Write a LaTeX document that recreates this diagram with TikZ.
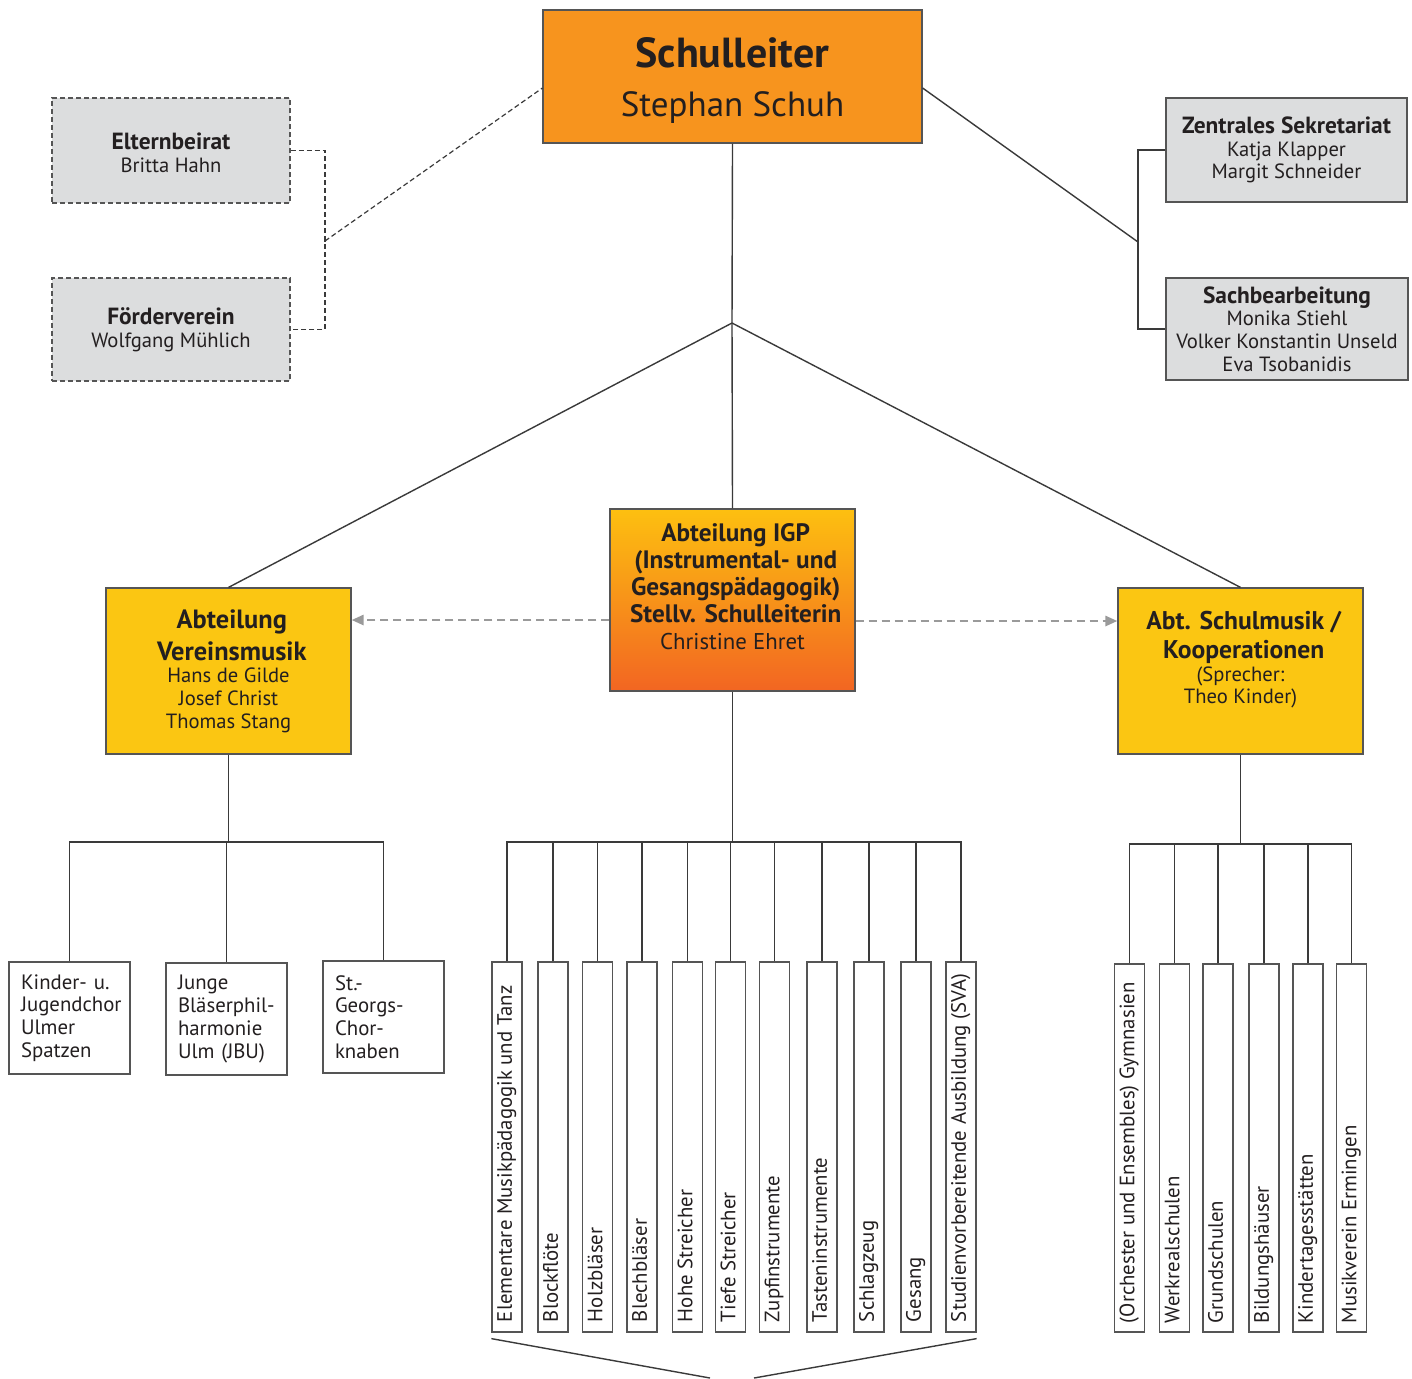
\documentclass[tikz,border=0pt]{standalone}
\usepackage{fontspec}
\setmainfont{PT Sans}
\usepackage{graphicx}
\usetikzlibrary{arrows.meta}

\definecolor{leadfill}{HTML}{F7941E}
\definecolor{deptfill}{HTML}{FBC612}
\definecolor{igptop}{HTML}{FDC010}
\definecolor{igpbottom}{HTML}{F26522}
\definecolor{stafffill}{HTML}{DCDDDE}
\definecolor{framec}{HTML}{555555}
\definecolor{wirec}{HTML}{3A3A3A}
\definecolor{peerc}{HTML}{9A9A9A}
\definecolor{ink}{HTML}{231F20}

\hyphenpenalty=10000
\exhyphenpenalty=10000

% title fonts
\newcommand\boxtitle{\fontsize{11.7}{11.5}\selectfont\bfseries}
\newcommand\depttitle[1]{\fontsize{#1}{14}\selectfont\bfseries}
% text set upright in a narrow column, read from bottom to top
\newcommand\uptext[1]{\rotatebox{90}{\makebox[175pt][l]{\strut #1}}}

\begin{document}
\begin{tikzpicture}[x=0.5pt,y=-0.5pt,
  every node/.style={text=ink, inner sep=0pt},
  wire/.style={draw=wirec, line width=0.7pt},
  dotwire/.style={draw=wirec, line width=0.6pt, dash pattern=on 2.5pt off 1.5pt},
  peer/.style={draw=peerc, line width=1.3pt, dash pattern=on 4pt off 2.5pt,
    -{Triangle[length=6pt,width=5pt,fill=peerc]}},
  framed/.style={draw=framec, line width=0.6pt, align=center},
  staffbox/.style={framed, fill=stafffill, minimum width=120pt,
    font=\fontsize{10.3}{11.4}\selectfont},
  parentbox/.style={staffbox, dash pattern=on 2.5pt off 1.5pt, minimum width=119pt},
  deptbox/.style={framed, fill=deptfill, minimum width=122.5pt, minimum height=83pt},
  groupbox/.style={draw=framec, line width=0.6pt, fill=white, align=left,
    text width=48.5pt, inner xsep=6pt, minimum height=56pt,
    font=\fontsize{10.4}{11.35}\selectfont},
  unitbox/.style={draw=framec, line width=0.6pt, fill=white,
    minimum width=15pt, minimum height=185pt, font=\fontsize{10.4}{12}\selectfont}
]
\useasboundingbox[fill=white] (0,0) rectangle (1412,1378);

% head of school
\node[framed, fill=leadfill, minimum width=189.5pt, minimum height=66.5pt,
  font=\fontsize{17.5}{24.75}\selectfont] (lead) at (732.5,76.5)
  {\rule{0pt}{19pt}{\fontsize{21}{24.75}\selectfont\bfseries Schulleiter}\\Stephan Schuh};

% advisory bodies
\node[parentbox, minimum height=52.5pt, font=\fontsize{10.3}{11.6}\selectfont] (parents) at (171,150.5)
  {\rule{0pt}{11pt}{\boxtitle Elternbeirat}\\Britta Hahn};
\node[parentbox, minimum height=51.5pt, font=\fontsize{10.3}{11.6}\selectfont] (friends) at (171,329.5)
  {{\boxtitle Förderverein}\\Wolfgang Mühlich};

% administration
\node[staffbox, minimum width=120.5pt, minimum height=52pt] (office) at (1286.5,150)
  {{\boxtitle Zentrales Sekretariat}\\Katja Klapper\\Margit Schneider};
\node[staffbox, minimum width=121pt, minimum height=51pt] (admin) at (1287,329)
  {{\boxtitle Sachbearbeitung}\\Monika Stiehl\\Volker Konstantin Unseld\\Eva Tsobanidis};

% departments
\node[deptbox, font=\fontsize{10.3}{11.35}\selectfont] (vm) at (228.5,671)
  {{\depttitle{13.2} Abteilung}\\[2.65pt]{\depttitle{13.2} Vereinsmusik}\\Hans de Gilde\\Josef Christ\\Thomas Stang};
\node[framed, top color=igptop, bottom color=igpbottom, minimum width=122.5pt, minimum height=91pt,
  font=\fontsize{11.4}{13.5}\selectfont] (igp) at (732.5,600)
  {{\depttitle{12.6} Abteilung IGP}\\{\depttitle{12.6} (Instrumental- und}\\{\depttitle{12.6} Gesangspädagogik)}\\
   {\depttitle{12.6} Stellv. Schulleiterin}\\Christine Ehret\\\mbox{}};
\node[deptbox, font=\fontsize{10.3}{11.25}\selectfont] (sm) at (1240.5,671)
  {{\depttitle{12.8} Abt. Schulmusik /}\\[3.25pt]{\depttitle{12.8} Kooperationen}\\(Sprecher:\\Theo Kinder)\\[2pt]\mbox{}};

% ensembles of the club music department
\node[groupbox] (ch1) at (69.5,1018) {Kinder- u.\\Jugendchor\\Ulmer\\Spatzen};
\node[groupbox] (ch2) at (226.5,1019) {Junge\\Bläserphil-\\harmonie\\Ulm (JBU)};
\node[groupbox] (ch3) at (383.5,1017) {St.-\\Georgs-\\Chor-\\knaben};

% instrument sections
\node[unitbox] (i1)  at (507,1147)   {\uptext{Elementare Musikpädagogik und Tanz}};
\node[unitbox] (i2)  at (553,1147)   {\uptext{Blockflöte}};
\node[unitbox] (i3)  at (597.5,1147) {\uptext{Holzbläser}};
\node[unitbox] (i4)  at (642,1147)   {\uptext{Blechbläser}};
\node[unitbox] (i5)  at (687.5,1147) {\uptext{Hohe Streicher}};
\node[unitbox] (i6)  at (730.5,1147) {\uptext{Tiefe Streicher}};
\node[unitbox] (i7)  at (774.5,1147) {\uptext{Zupfinstrumente}};
\node[unitbox] (i8)  at (822,1147)   {\uptext{Tasteninstrumente}};
\node[unitbox] (i9)  at (869,1147)   {\uptext{Schlagzeug}};
\node[unitbox] (i10) at (916,1147)   {\uptext{Gesang}};
\node[unitbox] (i11) at (961,1147)   {\uptext{Studienvorbereitende Ausbildung (SVA)}};

% cooperation partners
\node[unitbox, minimum height=184pt] (k1) at (1129.5,1148) {\uptext{(Orchester und Ensembles) Gymnasien}};
\node[unitbox, minimum height=184pt] (k2) at (1174.5,1148) {\uptext{Werkrealschulen}};
\node[unitbox, minimum height=184pt] (k3) at (1218,1148)   {\uptext{Grundschulen}};
\node[unitbox, minimum height=184pt] (k4) at (1264,1148)   {\uptext{Bildungshäuser}};
\node[unitbox, minimum height=184pt] (k5) at (1308,1148)   {\uptext{Kindertagesstätten}};
\node[unitbox, minimum height=184pt] (k6) at (1351.5,1148) {\uptext{Musikverein Ermingen}};

% junction points
\coordinate (pbr)  at (325,241);
\coordinate (obr)  at (1138,242);
\coordinate (hub)  at (732,323);
\coordinate (vbus) at (228.5,842);
\coordinate (ibus) at (732.5,842);
\coordinate (kbus) at (1240.5,844);
\coordinate (fanl) at (710,1378);
\coordinate (fanr) at (754,1378);

% advisory bodies (dashed)
\draw[dotwire] (parents.east) -| (pbr) |- (friends.east);
\draw[dotwire] (pbr) -- ([yshift=-5.75pt]lead.west);

% administration
\draw[wire] (office.west) -| (obr) |- (admin.west);
\draw[wire] (obr) -- ([yshift=-5.75pt]lead.east);

% head to departments
\draw[wire] (lead.south) -- (hub);
\draw[wire] (hub) -- (vm.north);
\draw[wire] (hub) -- (sm.north);
\draw[wire] (hub) -- (igp.north);

% deputy links
\draw[peer] (igp.west |- 0,620) -- (vm.east |- 0,620);
\draw[peer] (igp.east |- 0,621) -- (sm.west |- 0,621);

% department trees
\draw[wire] (vm.south) -- (vbus);
\foreach \c in {ch1,ch2,ch3} \draw[wire] (\c.north) |- (vbus);
\draw[wire] (igp.south) -- (ibus);
\foreach \n in {1,...,11} \draw[wire] (i\n.north) |- (ibus);
\draw[wire] (sm.south) -- (kbus);
\foreach \n in {1,...,6} \draw[wire] (k\n.north) |- (kbus);

% brace below the instrument sections
\draw[wire] ([yshift=-3pt]i1.south west) -- (fanl);
\draw[wire] ([yshift=-3pt]i11.south east) -- (fanr);
\end{tikzpicture}
\end{document}
